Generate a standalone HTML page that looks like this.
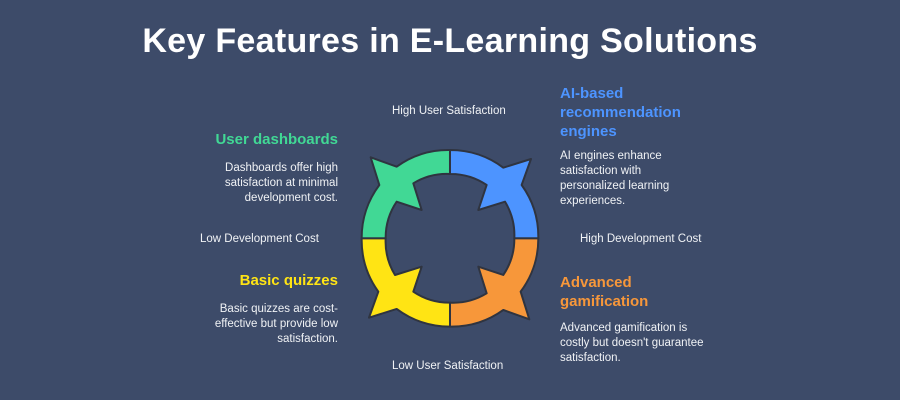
<!DOCTYPE html>
<html><head><style>
body{margin:0;width:900px;height:400px;background:#3d4b69;font-family:"Liberation Sans",sans-serif;position:relative;overflow:hidden;color:#fff}
.a{position:absolute;white-space:nowrap}
h1{position:absolute;top:22px;left:0;width:900px;text-align:center;margin:0;font-size:34px;font-weight:bold;color:#fff;letter-spacing:0.3px}
.s{font-size:11.5px;color:#f0f2f5}
.h{font-size:15px;font-weight:bold}
.p{font-size:11.5px;line-height:15px;color:#f0f2f5}
</style></head><body>
<h1>Key Features in E-Learning Solutions</h1>
<div class="a s" style="left:392px;top:105px">High User Satisfaction</div>
<div class="a s" style="left:392px;top:360px">Low User Satisfaction</div>
<div class="a s" style="left:200px;top:233px">Low Development Cost</div>
<div class="a s" style="left:580px;top:233px">High Development Cost</div>
<div class="a h" style="right:562px;top:131px;color:#41d895;text-align:right">User dashboards</div>
<div class="a p" style="right:562px;top:161px;text-align:right">Dashboards offer high<br>satisfaction at minimal<br>development cost.</div>
<div class="a h" style="right:562px;top:272px;color:#ffe414;text-align:right">Basic quizzes</div>
<div class="a p" style="right:562px;top:302px;text-align:right">Basic quizzes are cost-<br>effective but provide low<br>satisfaction.</div>
<div class="a h" style="left:560px;top:84px;color:#4d94ff;line-height:19px">AI-based<br>recommendation<br>engines</div>
<div class="a p" style="left:560px;top:149px">AI engines enhance<br>satisfaction with<br>personalized learning<br>experiences.</div>
<div class="a h" style="left:560px;top:273px;color:#f7973a;line-height:19px">Advanced<br>gamification</div>
<div class="a p" style="left:560px;top:321px">Advanced gamification is<br>costly but doesn't guarantee<br>satisfaction.</div>
<svg width="900" height="400" style="position:absolute;left:0;top:0">
<g transform="translate(350,140) scale(0.3333)" stroke="#2f3440" stroke-width="6" stroke-linejoin="round">
<defs><path id="q" d="M300,30 A265,265 0 0 0 140,80 L62,52 L88,135 A265,265 0 0 0 35,295 L107,295 A193,193 0 0 1 140,185 L215,210 L190,130 A193,193 0 0 1 300,102 Z"/></defs>
<use href="#q" fill="#41d895"/>
<use href="#q" fill="#4d94ff" transform="rotate(90 300 295)"/>
<use href="#q" fill="#f7973a" transform="rotate(180 300 295)"/>
<use href="#q" fill="#ffe414" transform="rotate(270 300 295)"/>
</g></svg>
</body></html>
